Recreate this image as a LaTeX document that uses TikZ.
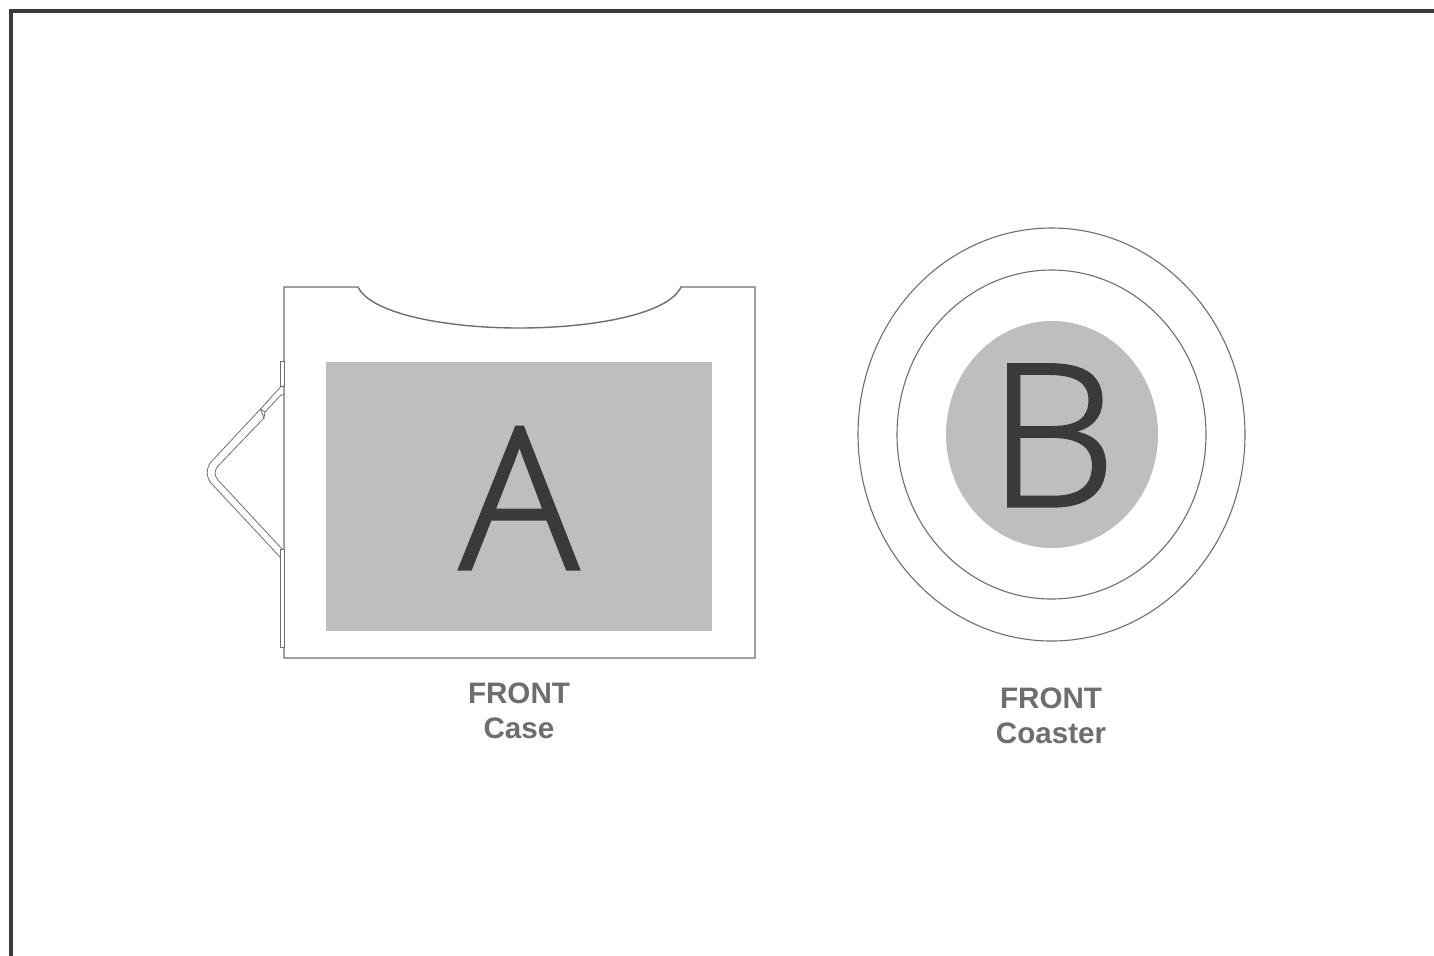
\documentclass[tikz,border=0pt]{standalone}
\usepackage{fontspec}
\setmainfont{Liberation Sans}
\newfontfamily\lightfont[FakeBold=1.6]{Open Sans Light}
\definecolor{lineg}{HTML}{6D6E71}
\definecolor{fillg}{HTML}{BCBEC0}
\definecolor{darkg}{HTML}{3A3A3C}
\tikzset{
  outline/.style={draw=lineg,line width=0.7pt},
  ringline/.style={draw=lineg,line width=0.55pt},
  thinline/.style={draw=lineg,line width=0.4pt},
  biglabel/.style={font=\lightfont\fontsize{99}{99}\selectfont,text=darkg,inner sep=0pt,anchor=base},
  caption/.style={font=\bfseries\fontsize{14.8}{17.8}\selectfont,text=lineg,align=center,inner sep=0pt,anchor=base}
}
\begin{document}
\begin{tikzpicture}[x=0.5pt,y=-0.5pt]
\useasboundingbox (0,0) rectangle (1434,955);
\draw[draw=darkg,line width=2.4pt] (11,975) -- (11,11) -- (1454,11);
% case
\path[outline,fill=white] (284,287) -- (358,287) .. controls (372,315) and (450,328) .. (519,328)
  .. controls (590,328) and (668,315) .. (681,287) -- (755,287) -- (755,658) -- (284,658) -- cycle;
\fill[fillg] (326,362) rectangle (712,631);
\node[biglabel] (a) at (519,569) {A};
% hinge
\draw[thinline,fill=white] (280,361) rectangle (284,386);
\draw[thinline,fill=white] (280,549) rectangle (284,647);
\draw[thinline] (284,386) -- (281,386.5) -- (260.5,409) (284,394.5) -- (281,395) -- (265,412)
  (260.5,409) -- (265,412) -- (264,418) -- (260.5,409)
  (260.5,409) -- (211,462) .. controls (206,468) and (206,477) .. (211,483) -- (280,557)
  (264,418) -- (218,466) .. controls (214,471) and (214,475) .. (218,480) -- (282,549);
% coaster
\draw[ringline] (1051.5,434.5) ellipse [x radius=193.5,y radius=206.5];
\draw[ringline] (1051.5,434.5) ellipse [x radius=154.5,y radius=164.5];
\fill[fillg] (1052,434.5) ellipse [x radius=106,y radius=113.5];
\node[biglabel,xscale=1.03] (b) at (1052,506) {B};
\node[caption] (c1) at (519,703) {FRONT};
\node[caption] (c2) at (519,738) {Case};
\node[caption] (c3) at (1051,708) {FRONT};
\node[caption] (c4) at (1051,743) {Coaster};
\end{tikzpicture}
\end{document}
